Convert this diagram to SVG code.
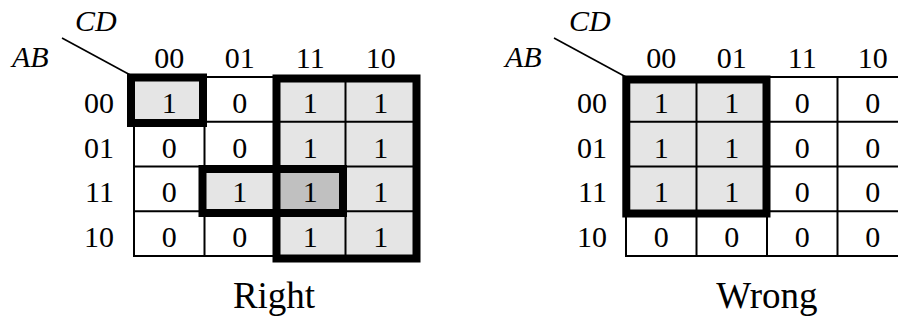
<svg xmlns="http://www.w3.org/2000/svg" width="898" height="324" viewBox="0 0 898 324">
<style>
.t{font-family:"Liberation Serif","Times New Roman",serif;font-size:30px;fill:#000;text-anchor:middle}
.rl{text-anchor:end}
.it{font-style:italic;text-anchor:start}
.cap{font-size:37px}
.g{stroke:#000;stroke-width:2;fill:none}
.k{stroke:#000;stroke-width:8;fill:none}
.l{fill:#e5e5e5}
.d{fill:#c0c0c0}
</style>
<rect width="898" height="324" fill="#fff"/>
<g id="map-right">
  <g id="right-fills">
    <rect class="l" x="134" y="77" width="70.5" height="44.75"/>
    <rect class="l" x="275" y="77" width="141" height="179"/>
    <rect class="l" x="204.5" y="166.5" width="70.5" height="44.75"/>
    <rect class="d" x="275" y="166.5" width="70.5" height="44.75"/>
  </g>
  <g id="right-grid">
    <rect class="g" x="134" y="77" width="282" height="179"/>
    <path class="g" d="M204.5 77V256M275 77V256M345.5 77V256M134 121.75H416M134 166.5H416M134 211.25H416"/>
    <path stroke="#000" stroke-width="1.6" d="M62 38L134 77"/>
  </g>
  <g id="right-groups">
    <rect class="k" x="131" y="77.5" width="72" height="45.5"/>
    <rect class="k" x="276.5" y="78.5" width="140" height="180"/>
    <rect class="k" x="202.5" y="169" width="140.5" height="44"/>
  </g>
  <g id="right-labels">
    <text class="t it" x="75" y="31">CD</text>
    <text class="t it" x="12" y="67">AB</text>
    <text class="t" x="169.25" y="67.5">00</text>
    <text class="t" x="239.75" y="67.5">01</text>
    <text class="t" x="310.25" y="67.5">11</text>
    <text class="t" x="380.75" y="67.5">10</text>
    <text class="t rl" x="114" y="113">00</text>
    <text class="t rl" x="114" y="157.5">01</text>
    <text class="t rl" x="114" y="202">11</text>
    <text class="t rl" x="114" y="247">10</text>
  </g>
  <g id="right-values">
    <text class="t" x="169.25" y="113">1</text><text class="t" x="239.75" y="113">0</text><text class="t" x="310.25" y="113">1</text><text class="t" x="380.75" y="113">1</text>
    <text class="t" x="169.25" y="157.5">0</text><text class="t" x="239.75" y="157.5">0</text><text class="t" x="310.25" y="157.5">1</text><text class="t" x="380.75" y="157.5">1</text>
    <text class="t" x="169.25" y="202">0</text><text class="t" x="239.75" y="202">1</text><text class="t" x="310.25" y="202">1</text><text class="t" x="380.75" y="202">1</text>
    <text class="t" x="169.25" y="247">0</text><text class="t" x="239.75" y="247">0</text><text class="t" x="310.25" y="247">1</text><text class="t" x="380.75" y="247">1</text>
  </g>
  <text class="t cap" x="274" y="308">Right</text>
</g>
<g id="map-wrong">
  <g id="wrong-fills">
    <rect class="l" x="626" y="77" width="141" height="134.25"/>
  </g>
  <g id="wrong-grid">
    <rect class="g" x="626" y="77" width="282" height="179"/>
    <path class="g" d="M696.5 77V256M767 77V256M837.5 77V256M626 121.75H908M626 166.5H908M626 211.25H908"/>
    <path stroke="#000" stroke-width="1.6" d="M554 38L626 77"/>
  </g>
  <g id="wrong-groups">
    <rect class="k" x="626.3" y="79.5" width="140.2" height="134"/>
  </g>
  <g id="wrong-labels">
    <text class="t it" x="569" y="31">CD</text>
    <text class="t it" x="505" y="67">AB</text>
    <text class="t" x="661.25" y="67.5">00</text>
    <text class="t" x="731.75" y="67.5">01</text>
    <text class="t" x="802.25" y="67.5">11</text>
    <text class="t" x="872.75" y="67.5">10</text>
    <text class="t rl" x="607" y="113">00</text>
    <text class="t rl" x="607" y="157.5">01</text>
    <text class="t rl" x="607" y="202">11</text>
    <text class="t rl" x="607" y="247">10</text>
  </g>
  <g id="wrong-values">
    <text class="t" x="661.25" y="113">1</text><text class="t" x="731.75" y="113">1</text><text class="t" x="802.25" y="113">0</text><text class="t" x="872.75" y="113">0</text>
    <text class="t" x="661.25" y="157.5">1</text><text class="t" x="731.75" y="157.5">1</text><text class="t" x="802.25" y="157.5">0</text><text class="t" x="872.75" y="157.5">0</text>
    <text class="t" x="661.25" y="202">1</text><text class="t" x="731.75" y="202">1</text><text class="t" x="802.25" y="202">0</text><text class="t" x="872.75" y="202">0</text>
    <text class="t" x="661.25" y="247">0</text><text class="t" x="731.75" y="247">0</text><text class="t" x="802.25" y="247">0</text><text class="t" x="872.75" y="247">0</text>
  </g>
  <text class="t cap" x="767" y="308">Wrong</text>
</g>
<g id="connectors"></g>
</svg>
